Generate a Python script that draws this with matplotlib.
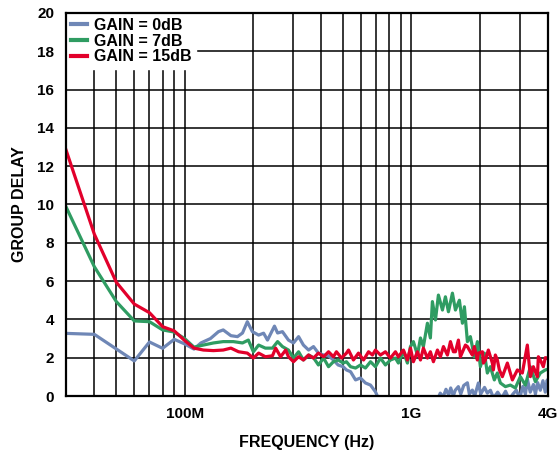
import matplotlib
matplotlib.use("Agg")
import matplotlib.pyplot as plt
from matplotlib.ticker import FixedLocator, LogLocator, NullFormatter
import numpy as np

plt.rcParams['font.family'] = ['Liberation Sans', 'DejaVu Sans']
plt.rcParams['font.weight'] = 'bold'

# Frequencies in MHz, group delay in ns
freq_0db = [30, 40, 60, 70, 80, 90, 100, 110, 118, 130, 141, 148, 160, 171, 180, 189, 199,
            212, 223, 232, 249, 257, 270, 287, 302, 318, 334, 352, 370, 389, 410, 431, 453,
            475, 500, 517, 539, 567, 596, 627, 660, 694, 720, 800, 900, 1000, 1100, 1200,
            1300, 1340, 1380, 1420, 1460, 1490, 1530, 1560, 1610, 1650, 1700, 1765, 1800,
            1856, 1900, 1973, 2020, 2100, 2161, 2230, 2300, 2400, 2500, 2600, 2700, 2800,
            2900, 3000, 3100, 3180, 3250, 3340, 3450, 3520, 3600, 3700, 3800, 3890, 3970, 4000]
delay_0db = [3.27, 3.22, 1.83, 2.82, 2.49, 2.96, 2.72, 2.45, 2.77, 3.0, 3.36, 3.45, 3.15, 3.1,
             3.29, 3.88, 3.36, 3.18, 3.28, 2.92, 3.65, 3.29, 3.36, 2.92, 2.77, 3.1, 2.66, 2.4,
             2.58, 2.24, 2.14, 2.1, 1.88, 1.62, 1.53, 1.36, 1.27, 0.84, 0.94, 0.68, 0.57, 0.22,
             -0.2, -0.6, -0.8, -0.8, -0.6, -0.4, -0.2, 0.15, -0.05, 0.35, 0.05, 0.42, 0.0, 0.3,
             0.49, 0.1, 0.55, 0.69, 0.1, 0.31, 0.0, 0.68, 0.1, 0.45, 0.15, 0.3, -0.1, 0.2, -0.1,
             0.25, -0.2, 0.1, 0.3, -0.1, 0.5, 0.1, 0.84, 0.2, 0.6, 0.1, 0.7, 0.3, 0.8, 0.2,
             0.84, 0.5]

freq_7db = [30, 40, 50, 60, 70, 80, 90, 100, 110, 121, 134, 148, 164, 180, 191, 201, 212, 227,
            244, 257, 270, 287, 302, 318, 334, 352, 370, 389, 410, 431, 453, 476, 500, 517,
            539, 567, 596, 627, 660, 694, 730, 768, 808, 850, 876, 894, 922, 960, 990, 1020,
            1063, 1096, 1129, 1176, 1212, 1237, 1276, 1315, 1370, 1412, 1456, 1516, 1563,
            1627, 1678, 1712, 1765, 1819, 1894, 1953, 2014, 2097, 2161, 2228, 2320, 2392,
            2467, 2595, 2730, 2872, 3021, 3178, 3344, 3518, 3701, 3893, 4000]
delay_7db = [9.88, 6.75, 4.93, 3.92, 3.88, 3.45, 3.34, 3.0, 2.55, 2.66, 2.77, 2.84, 2.84, 2.77,
             2.92, 2.31, 2.66, 2.5, 2.5, 2.84, 2.58, 2.4, 1.98, 2.31, 1.88, 2.14, 2.0, 1.62,
             1.98, 1.53, 1.79, 1.88, 1.72, 1.79, 1.53, 1.46, 1.62, 1.46, 1.79, 1.53, 1.98,
             1.62, 1.88, 1.98, 1.72, 1.98, 2.31, 1.72, 2.58, 2.84, 2.14, 3.03, 2.58, 3.8, 3.03,
             4.93, 3.97, 5.27, 4.49, 5.18, 4.4, 5.37, 4.49, 5.0, 3.8, 4.66, 2.84, 3.1, 2.05,
             2.84, 1.53, 2.24, 1.2, 1.53, 0.84, 1.2, 0.68, 0.49, 0.57, 0.42, 1.01, 0.57, 1.53,
             0.75, 1.2, 1.36, 1.4]

freq_15db = [30, 40, 50, 60, 70, 80, 90, 100, 110, 121, 134, 148, 160, 173, 189, 201, 212, 227,
             244, 252, 265, 279, 287, 302, 318, 334, 352, 370, 389, 410, 431, 453, 467, 492,
             517, 528, 555, 584, 615, 647, 673, 694, 730, 768, 808, 850, 876, 922, 960, 990,
             1020, 1063, 1096, 1129, 1176, 1212, 1250, 1302, 1342, 1384, 1441, 1486, 1531,
             1563, 1611, 1644, 1730, 1765, 1819, 1856, 1894, 1953, 1973, 2055, 2076, 2118,
             2183, 2274, 2297, 2344, 2392, 2442, 2517, 2648, 2786, 2931, 3083, 3243, 3344,
             3447, 3591, 3627, 3701, 3815, 3893, 3973, 4000]
delay_15db = [12.85, 8.45, 5.94, 4.8, 4.35, 3.62, 3.4, 2.9, 2.5, 2.4, 2.37, 2.4, 2.5, 2.31, 2.24,
              1.98, 2.24, 2.05, 2.1, 2.5, 2.05, 2.4, 2.05, 1.79, 2.05, 1.88, 2.14, 1.98, 2.24,
              2.05, 2.31, 2.05, 2.31, 1.98, 2.24, 2.4, 1.88, 2.24, 1.88, 2.31, 2.14, 2.4, 2.14,
              2.31, 1.98, 2.31, 2.05, 2.4, 1.88, 2.5, 1.79, 2.31, 1.88, 2.5, 1.98, 2.31, 1.79,
              2.4, 2.05, 2.58, 2.14, 2.84, 2.31, 2.31, 2.92, 2.05, 2.66, 2.58, 2.31, 2.14, 2.58,
              1.88, 2.24, 2.31, 1.72, 1.88, 2.4, 1.72, 1.36, 2.14, 1.88, 1.36, 1.01, 1.72, 0.84,
              1.36, 1.2, 2.66, 1.01, 1.53, 1.01, 2.05, 1.88, 1.53, 2.0, 1.98, 2.0]

series_labels = ["GAIN = 0dB", "GAIN = 7dB", "GAIN = 15dB"]
series_colors = ["#6f87b6", "#2f9c62", "#e2002b"]
x_tick_values = [1e8, 1e9, 4e9]
x_tick_labels = ["100M", "1G", "4G"]
y_ticks = list(range(0, 21, 2))

W, H = 559, 454
fig = plt.figure(figsize=(W / 100, H / 100), dpi=100)
ax = fig.add_axes([66 / W, 58 / H, 482 / W, 383 / H])

for f, d, lab, col in zip([freq_0db, freq_7db, freq_15db],
                          [delay_0db, delay_7db, delay_15db],
                          series_labels, series_colors):
    ax.plot(np.array(f) * 1e6, d, color=col, lw=2.3, label=lab, zorder=3,
            solid_joinstyle='round')

ax.set_xscale('log')
ax.set_xlim(30e6, 4e9)
ax.set_ylim(0, 20)

ax.xaxis.set_major_locator(FixedLocator(x_tick_values))
ax.set_xticklabels(x_tick_labels)
ax.xaxis.set_minor_locator(LogLocator(base=10, subs=np.arange(1, 10)))
ax.xaxis.set_minor_formatter(NullFormatter())
ax.set_yticks(y_ticks)

ax.grid(True, which='both', axis='x', color='black', lw=1.1, zorder=1)
ax.grid(True, which='major', axis='y', color='black', lw=1.1, zorder=1)
ax.set_axisbelow(True)

ax.tick_params(which='both', length=0)
ax.tick_params(axis='x', pad=8, labelsize=11)
ax.tick_params(axis='y', pad=8.5, labelsize=11)
for s in ax.spines.values():
    s.set_linewidth(1.6)
    s.set_zorder(5)

ax.set_xlabel("FREQUENCY (Hz)", fontsize=11.5, fontweight='bold', labelpad=10)
ax.set_ylabel("GROUP DELAY", fontsize=11.5, fontweight='bold', labelpad=7)

leg = ax.legend(loc='upper left', bbox_to_anchor=(0.0, 1.0), fontsize=11.5,
                handlelength=1.0, handletextpad=0.45, labelspacing=0.05,
                borderpad=0.3, borderaxespad=0.0, frameon=True, fancybox=False,
                framealpha=1.0, facecolor='white', edgecolor='white')
leg.set_zorder(4)
for line in leg.get_lines():
    line.set_linewidth(3)

fig.savefig("out.png", dpi=100)
